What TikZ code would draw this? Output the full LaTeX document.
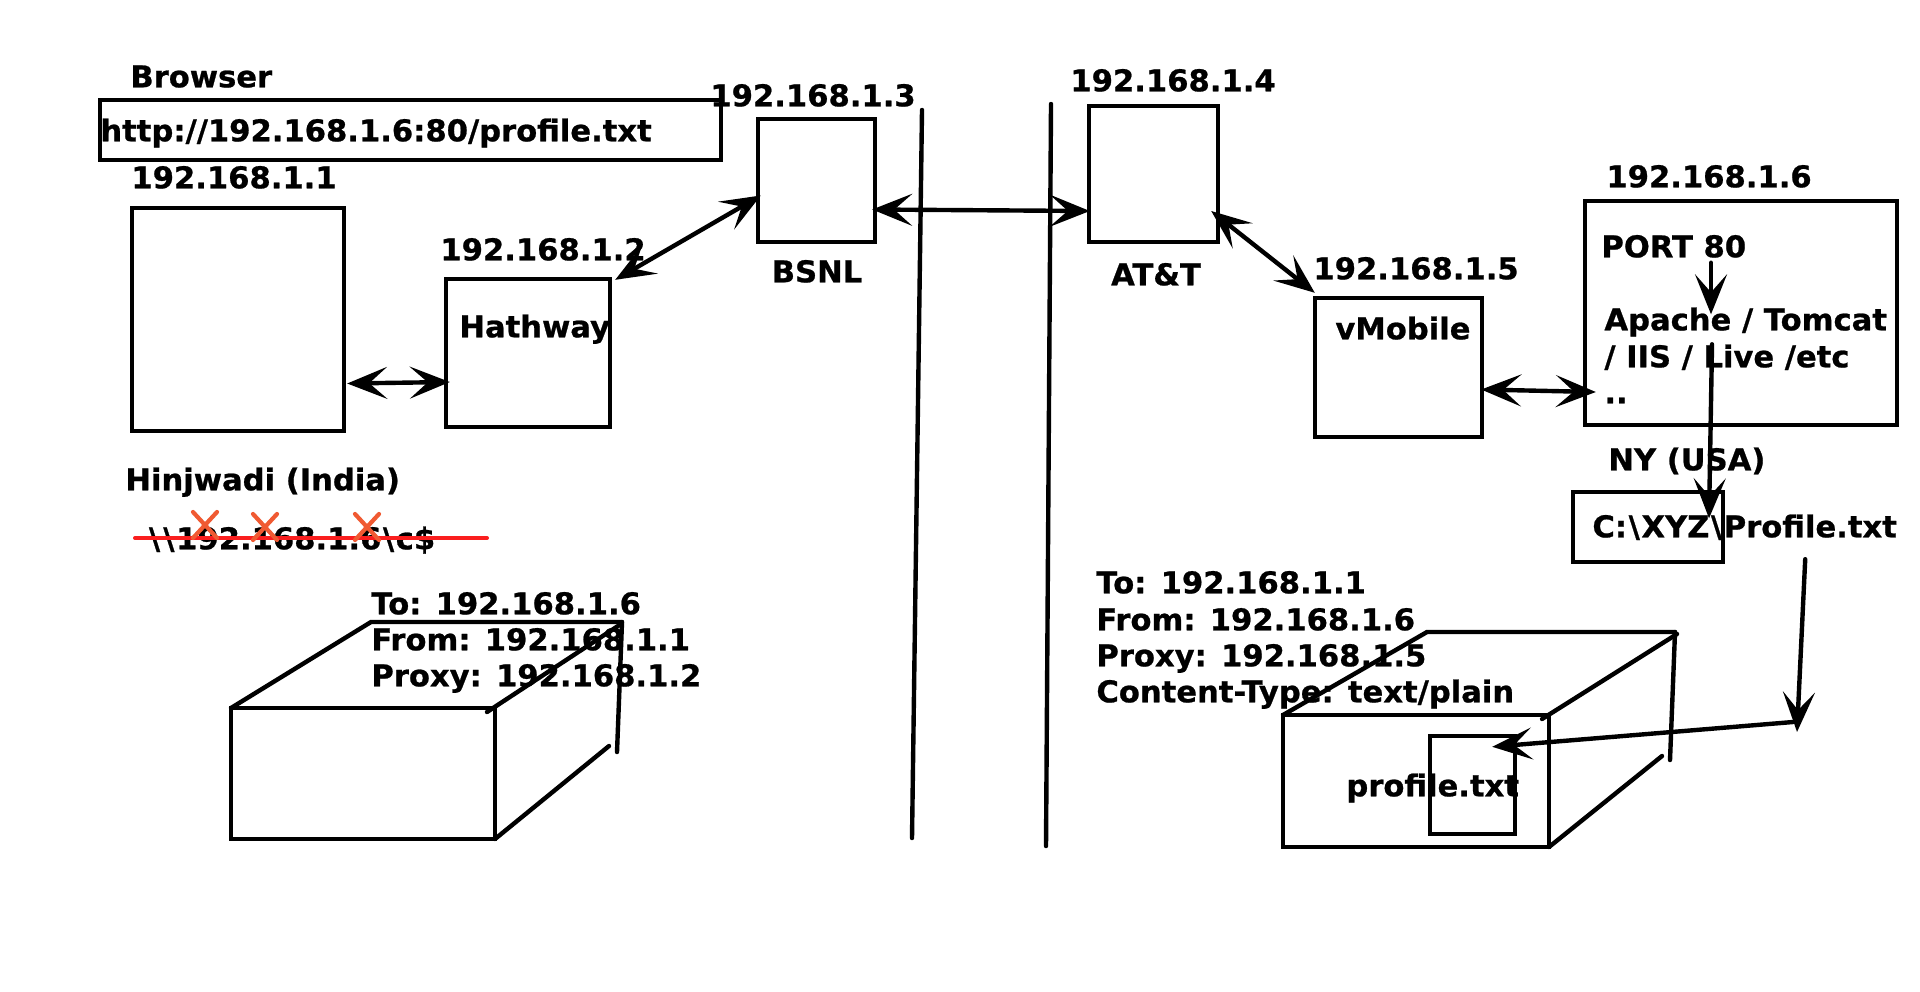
\documentclass[tikz,border=0pt]{standalone}
\usepackage{fontspec}
\setmainfont{DejaVu Sans}[BoldFeatures={FakeStretch=1.02,FakeBold=0.8}]
\usetikzlibrary{arrows.meta,calc}
\definecolor{strikered}{RGB}{250,30,30}
\definecolor{crossred}{RGB}{240,90,50}
\newcommand\bsl{\kern0.8pt\textbackslash\kern0.8pt}
\begin{document}
\begin{tikzpicture}[x=0.5pt,y=-0.5pt,
  every node/.style={font=\fontsize{15}{18}\selectfont\bfseries},
  lbl/.style={anchor=west,inner sep=0pt,text height=0.73em,text depth=0pt,yshift=-1.5pt},
  clbl/.style={anchor=center,inner sep=0pt,text height=0.73em,text depth=0pt,yshift=-1.5pt},
  box/.style={draw,line width=2.2pt,inner sep=0pt},
  edge/.style={line width=2.2pt,line cap=round},
  arr/.style={edge,-{Stealth[length=20pt,width=16pt,inset=9pt]}},
  darr/.style={edge,{Stealth[length=20pt,width=16pt,inset=9pt]}-{Stealth[length=20pt,width=16pt,inset=9pt]}},
  xmark/.style={draw=crossred,line width=2.1pt,line cap=round}
]
\fill[white] (0,0) rectangle (1920,991);
\useasboundingbox (0,0) rectangle (1920,991);

% ---- client side ----
\node[lbl] (browser) at (130,77) {Browser};
\node[box,minimum width=310.5pt,minimum height=30pt] (url) at (410.5,130) {};
\node[lbl] (urltext) at (100,131) {http://192.168.1.6:80/profile.txt};

\node[lbl] (ip1) at (131,178) {192.168.1.1};
\node[box,minimum width=106pt,minimum height=111.5pt] (pc) at (238,319.5) {};

\node[lbl] (hinj) at (125,480) {Hinjwadi (India)};
\node[lbl] (share) at (147,539) {\bsl\bsl192.168.1.6\bsl c\$};
\draw[strikered,line width=2pt,line cap=round] (135,538) -- (487,538);
\foreach \cx/\cy in {205/525,265/527,367/527}
  \draw[xmark] (\cx-12,\cy-13) -- (\cx+12,\cy+13) (\cx-12,\cy+13) -- (\cx+12,\cy-13);

\node[box,minimum width=82pt,minimum height=74pt] (hath) at (528,353) {};
\node[lbl] (hathlbl) at (459,327) {Hathway};
\node[lbl] (ip2) at (440,250) {192.168.1.2};

\node[box,minimum width=58.5pt,minimum height=61.5pt] (bsnl) at (816.5,180.5) {};
\node[lbl] (ip3) at (710,96) {192.168.1.3};
\node[clbl] (bsnllbl) at (817,272) {BSNL};

% ---- the two boundary lines ----
\draw[edge] (922,110) -- (912,838);
\draw[edge] (1051,104) -- (1046,846);

% ---- remote side ----
\node[box,minimum width=64.5pt,minimum height=68pt] (att) at (1153.5,174) {};
\node[lbl] (ip4) at (1070,81) {192.168.1.4};
\node[clbl] (attlbl) at (1156,275) {AT\&T};

\node[box,minimum width=83.5pt,minimum height=69.5pt] (vmob) at (1398.5,367.5) {};
\node[lbl] (ip5) at (1313,269) {192.168.1.5};
\node[lbl] (vmoblbl) at (1335,329) {vMobile};

\node[box,minimum width=156pt,minimum height=112pt] (server) at (1741,313) {};
\node[lbl] (ip6) at (1606,177) {192.168.1.6};
\node[lbl] (port) at (1601,247) {PORT 80};
\node[lbl] (apache) at (1604,320) {Apache / Tomcat};
\node[lbl] (iis) at (1604,357) {/ IIS / Live /etc};
\node[lbl] (dots) at (1604,393) {..};

\node[lbl] (ny) at (1608,460) {NY (USA)};
\node[box,minimum width=75pt,minimum height=35pt] (cbox) at (1648,527) {};
\node[lbl] (ctext) at (1592,527) {C:\bsl XYZ\bsl Profile.txt};

% ---- packets ----
\draw[edge] (231,708) -- (371,622) -- (622,622);
\draw[edge] (487,712) -- (621,624);
\draw[edge] (622,622) -- (617,752);
\draw[edge] (495,839) -- (609,746);
\node[box,minimum width=132pt,minimum height=65.5pt] (crateL) at (363,773.5) {};
\node[lbl] (reqto) at (371,604) {To: 192.168.1.6};
\node[lbl] (reqfrom) at (371,640) {From: 192.168.1.1};
\node[lbl] (reqproxy) at (371,676) {Proxy: 192.168.1.2};

\draw[edge] (1283,715) -- (1427,632) -- (1675,632);
\draw[edge] (1542,719) -- (1677,634);
\draw[edge] (1675,632) -- (1670,760);
\draw[edge] (1549,847) -- (1662,756);
\node[box,minimum width=133pt,minimum height=66pt] (crateR) at (1416,781) {};
\node[lbl] (resto) at (1096,583) {To: 192.168.1.1};
\node[lbl] (resfrom) at (1096,620) {From: 192.168.1.6};
\node[lbl] (resproxy) at (1096,656) {Proxy: 192.168.1.5};
\node[lbl] (restype) at (1096,692) {Content-Type: text/plain};
\node[lbl] (filelbl) at (1346,786) {profile.txt};
\node[box,minimum width=42.5pt,minimum height=49pt] (inner) at (1472.5,785) {};

% ---- connectors ----
\draw[darr] ($(pc.east)+(1,64)$) -- ($(hath.west)+(6,29)$);
\draw[darr] ($(hath.north east)+(3,3)$) -- ($(bsnl.west)+(5,15)$);
\draw[darr] ($(bsnl.east)+(-5,29)$) -- ($(att.west)+(3,37)$);
\draw[darr] ($(att.east)+(-9,37)$) -- ($(vmob.north west)+(2,-3)$);
\draw[darr] ($(vmob.east)+(-3,22)$) -- ($(server.west)+(13,79)$);
\draw[arr] ($(port.south west)+(110,5)$) -- ($(apache.north west)+(107,-1)$);
\draw[arr] ($(iis.north west)+(108,-8)$) -- ($(ctext.north west)+(117,-4)$);
\coordinate (elbow) at (1797,732);
\draw[arr] ($(cbox.south east)+(80,-5)$) -- (elbow);
\draw[arr] ($(elbow)+(-4,-10)$) -- ($(inner.north east)+(-25,13)$);
\end{tikzpicture}
\end{document}
